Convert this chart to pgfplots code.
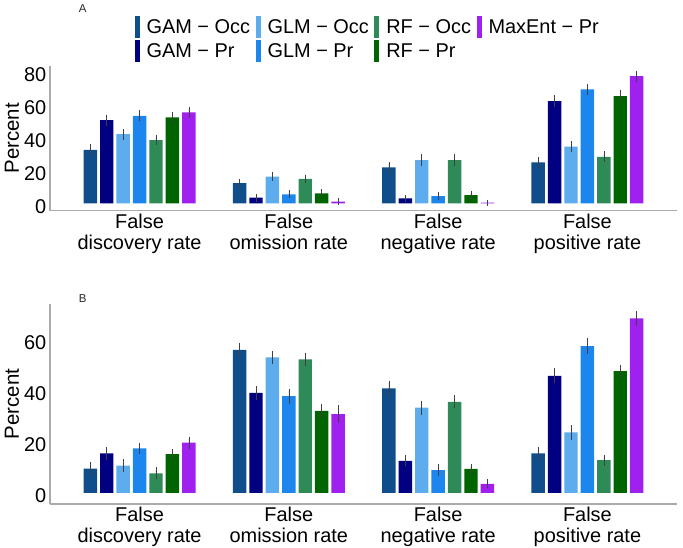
\documentclass[border=0pt]{standalone}
\usepackage{fontspec}
\setmainfont{Liberation Sans}
\usepackage{pgfplots}
\pgfplotsset{compat=1.18}
\usepackage{pgfplotstable}

% model colours
\definecolor{gamocc}{HTML}{104E8B}
\definecolor{gampr}{HTML}{000080}
\definecolor{glmocc}{HTML}{5CACEE}
\definecolor{glmpr}{HTML}{1C86EE}
\definecolor{rfocc}{HTML}{2E8B57}
\definecolor{rfpr}{HTML}{006400}
\definecolor{maxent}{HTML}{A020F0}
\definecolor{axisgray}{HTML}{ABABAB}

% Panel A: mean error rates (percent) and their standard errors
\pgfplotstableread{
cat gamocc gamoccE gampr gamprE glmocc glmoccE glmpr glmprE rfocc rfoccE rfpr rfprE maxent maxentE
1   32.5   1.8     50.6  1.8    42.1   1.8     53.2  1.8    38.5  1.8    52.2 1.8   55.3   1.8
2   12.2   1.0     3.4   0.8    16.2   1.1     5.5   1.0    14.8  1.1    6.1  1.0   1.0    0.6
3   21.9   1.9     3.0   0.8    26.3   1.9     4.4   1.0    26.3  1.9    5.0  1.1   0.4    0.3
4   24.9   1.8     62.2  2.0    34.4   1.8     69.3  2.0    28.3  1.8    65.2 2.0   77.3   1.8
}\dataA

% Panel B
\pgfplotstableread{
cat gamocc gamoccE gampr gamprE glmocc glmoccE glmpr glmprE rfocc rfoccE rfpr rfprE maxent maxentE
1   9.5    1.6     15.4  1.4    10.6   1.5     17.4  1.2    7.6   1.4    15.1 1.2   19.6   1.4
2   55.9   1.8     39.1  1.8    53.0   1.5     37.8  2.0    52.2  1.6    32.1 1.8   30.8   2.5
3   40.9   2.0     12.5  1.2    33.3   1.7     8.9   1.2    35.6  1.6    9.4  1.0   3.5    0.8
4   15.4   1.4     45.8  2.0    23.6   1.8     57.4  2.2    12.8  1.2    47.6 1.6   68.3   1.9
}\dataB

\pgfplotsset{
  rates/.style={
    scale only axis, width=627bp,
    xmin=0.4, xmax=4.6,
    axis x line*=bottom, axis y line*=left,
    axis line style={draw=axisgray, line width=1.1bp},
    major tick length=0pt,
    xtick={1,2,3,4},
    xticklabels={{False\\discovery rate},{False\\omission rate},{False\\negative rate},{False\\positive rate}},
    x tick label style={align=center, font=\fontsize{20}{21}\selectfont, anchor=north, inner sep=0bp, yshift=-3bp},
    y tick label style={font=\fontsize{20}{24}\selectfont, anchor=east, inner sep=0bp, xshift=-3.5bp, yshift=-3bp},
    /pgf/number format/assume math mode=true,
    ylabel=Percent,
    ylabel style={at={(axis description cs:-0.0606,0.5)}, anchor=center, font=\fontsize{20.5}{24}\selectfont},
    clip=false,
  },
  model/.style={
    ybar, bar width=0.09, bar shift=0pt, draw=none, fill=#1,
    legend image code/.code={\fill[#1] (0bp,-11bp) rectangle (5bp,11bp);},
    error bars/.cd, y dir=both, y explicit,
    error bar style={draw=black!75, line width=0.6bp},
    error mark options={draw=black!75, line width=0.6bp, mark size=2.5bp},
  },
}

\begin{document}
\begin{tikzpicture}
\path[use as bounding box] (0,0) rectangle (683bp,-548bp);

\begin{axis}[rates,
  at={(50bp,-210.7bp)}, anchor=south west,
  height=144.7bp, ymin=-4.5, ymax=83.5,
  ytick={0,20,40,60,80},
  legend style={draw=none, fill=none, at={(0.5066,1.185)}, anchor=center,
    font=\fontsize{20}{24}\selectfont,
    /tikz/every odd column/.append style={column sep=5bp},
    /tikz/every even column/.append style={column sep=3.5bp},
    row sep=2bp},
  legend columns=4, legend cell align=left,
]
\addplot[model=gamocc] table[x expr=\thisrow{cat}-0.33, y=gamocc, y error=gamoccE] {\dataA};
\addlegendentry{GAM − Occ}
\addplot[model=glmocc] table[x expr=\thisrow{cat}-0.11, y=glmocc, y error=glmoccE] {\dataA};
\addlegendentry{GLM − Occ}
\addplot[model=rfocc] table[x expr=\thisrow{cat}+0.11, y=rfocc, y error=rfoccE] {\dataA};
\addlegendentry{RF − Occ}
\addplot[model=maxent] table[x expr=\thisrow{cat}+0.33, y=maxent, y error=maxentE] {\dataA};
\addlegendentry{MaxEnt − Pr}
\addplot[model=gampr] table[x expr=\thisrow{cat}-0.22, y=gampr, y error=gamprE] {\dataA};
\addlegendentry{GAM − Pr}
\addplot[model=glmpr] table[x expr=\thisrow{cat}, y=glmpr, y error=glmprE] {\dataA};
\addlegendentry{GLM − Pr}
\addplot[model=rfpr] table[x expr=\thisrow{cat}+0.22, y=rfpr, y error=rfprE] {\dataA};
\addlegendentry{RF − Pr}
\end{axis}

\begin{axis}[rates,
  at={(50bp,-504bp)}, anchor=south west,
  height=200bp, ymin=-4.4, ymax=73.9,
  ytick={0,20,40,60},
]
\addplot[model=gamocc] table[x expr=\thisrow{cat}-0.33, y=gamocc, y error=gamoccE] {\dataB};
\addplot[model=gampr]  table[x expr=\thisrow{cat}-0.22, y=gampr,  y error=gamprE]  {\dataB};
\addplot[model=glmocc] table[x expr=\thisrow{cat}-0.11, y=glmocc, y error=glmoccE] {\dataB};
\addplot[model=glmpr]  table[x expr=\thisrow{cat},      y=glmpr,  y error=glmprE]  {\dataB};
\addplot[model=rfocc]  table[x expr=\thisrow{cat}+0.11, y=rfocc,  y error=rfoccE]  {\dataB};
\addplot[model=rfpr]   table[x expr=\thisrow{cat}+0.22, y=rfpr,   y error=rfprE]   {\dataB};
\addplot[model=maxent] table[x expr=\thisrow{cat}+0.33, y=maxent, y error=maxentE] {\dataB};
\end{axis}

\node[font=\fontsize{11.5}{12}\selectfont, text=black!85] at (82.7bp,-8.7bp) {A};
\node[font=\fontsize{11.5}{12}\selectfont, text=black!85] at (82.7bp,-299bp) {B};
\end{tikzpicture}
\end{document}
